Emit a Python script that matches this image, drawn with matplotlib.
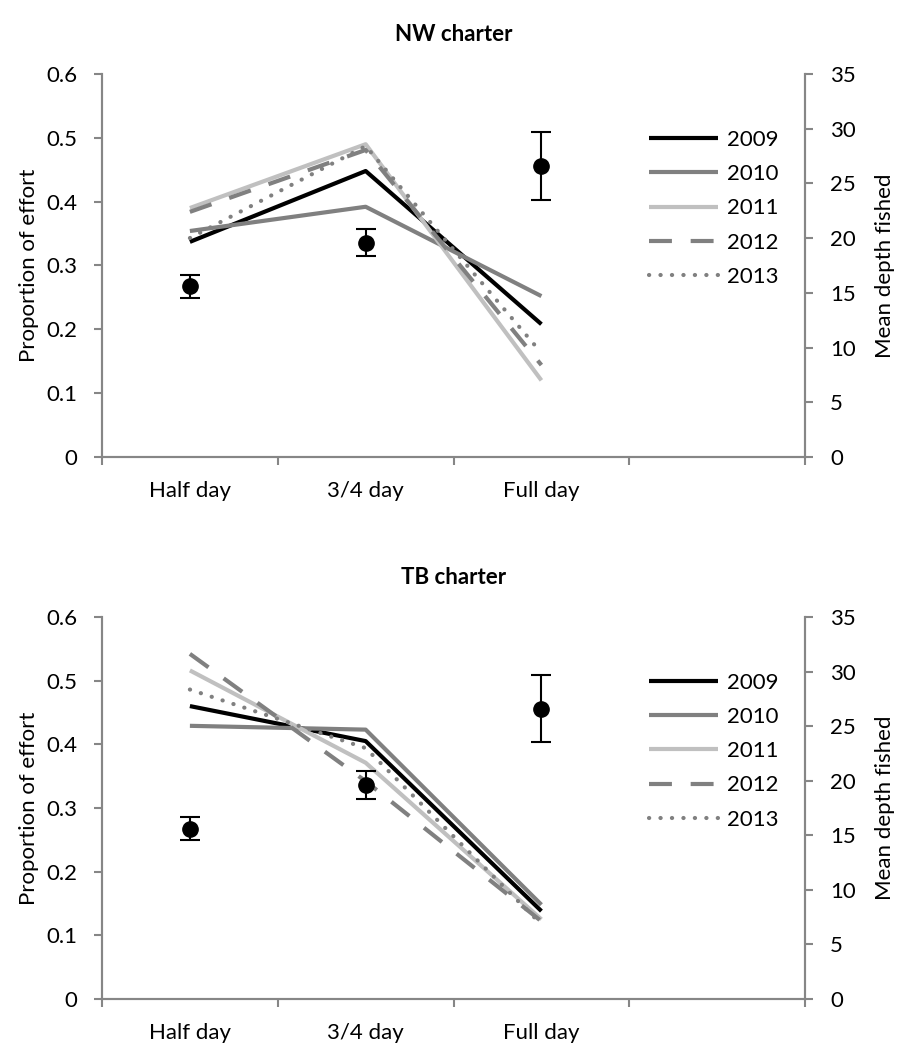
import matplotlib.pyplot as plt

plt.rcParams['font.family'] = ['Lato', 'DejaVu Sans']

categories = ['Half day', '3/4 day', 'Full day']
years = ['2009', '2010', '2011', '2012', '2013']

# proportion of effort, NW charter
nw_2009 = [0.337, 0.448, 0.208]
nw_2010 = [0.354, 0.392, 0.252]
nw_2011 = [0.390, 0.490, 0.120]
nw_2012 = [0.384, 0.481, 0.144]
nw_2013 = [0.343, 0.487, 0.163]

# proportion of effort, TB charter
tb_2009 = [0.460, 0.405, 0.138]
tb_2010 = [0.429, 0.423, 0.148]
tb_2011 = [0.516, 0.371, 0.125]
tb_2012 = [0.542, 0.342, 0.122]
tb_2013 = [0.486, 0.394, 0.117]

# mean depth fished (right axis)
depth_mean = [15.6, 19.6, 26.6]
depth_err = [1.05, 1.25, 3.1]

styles = [
    dict(color='black', ls='-'),
    dict(color='#808080', ls='-'),
    dict(color='#c0c0c0', ls='-'),
    dict(color='#808080', ls=(0, (5.5, 4.5))),
    dict(color='#808080', ls=(0, (0.05, 2.7)), dash_capstyle='round'),
]

spine_col = '#868686'
fs = 16


def panel(rect, title, series):
    ax = fig.add_axes(rect)
    x = list(range(len(categories)))
    for vals, yr, st in zip(series, years, styles):
        ax.plot(x, vals, lw=3, label=yr, solid_capstyle='butt', **st)
    ax.set_xlim(-0.5, 3.5)
    ax.set_ylim(0, 0.6)
    ax.set_yticks([0, 0.1, 0.2, 0.3, 0.4, 0.5, 0.6])
    ax.set_yticklabels(['0', '0.1', '0.2', '0.3', '0.4', '0.5', '0.6'])
    ax.set_xticks([-0.5, 0.5, 1.5, 2.5, 3.5])
    ax.set_xticklabels([])
    ax.set_xticks(x, minor=True)
    ax.set_xticklabels(categories, minor=True)
    ax.tick_params(axis='x', which='minor', length=0, pad=17, labelsize=fs)
    ax.tick_params(axis='x', which='major', length=6, color=spine_col, width=1.5)
    ax.tick_params(axis='y', length=6, color=spine_col, width=1.5, labelsize=fs, pad=12)
    ax.spines['top'].set_visible(False)
    for s in ['left', 'bottom', 'right']:
        ax.spines[s].set_color(spine_col)
        ax.spines[s].set_linewidth(1.5)
    ax.set_ylabel('Proportion of effort', fontsize=fs, labelpad=5)
    ax.set_title(title, fontsize=fs, fontweight='bold', pad=24)
    ax.legend(loc='upper left', bbox_to_anchor=(0.762, 0.883), frameon=False,
              fontsize=fs, handlelength=3.1, handletextpad=0.4,
              labelspacing=0.64, borderpad=0)

    ax2 = ax.twinx()
    ax2.errorbar(x, depth_mean, yerr=depth_err, fmt='o', color='black',
                 ms=11, capsize=7, elinewidth=1.5, capthick=1.5)
    ax2.set_ylim(0, 35)
    ax2.set_yticks(range(0, 36, 5))
    ax2.tick_params(axis='y', length=6, color=spine_col, width=1.5, labelsize=fs, pad=12)
    ax2.spines['top'].set_visible(False)
    for s in ['left', 'bottom', 'right']:
        ax2.spines[s].set_color(spine_col)
        ax2.spines[s].set_linewidth(1.5)
    ax2.set_ylabel('Mean depth fished', fontsize=fs, labelpad=14)
    return ax


fig = plt.figure(figsize=(8.98, 10.51), dpi=100)
panel([0.1136, 0.5652, 0.7829, 0.3644], 'NW charter',
      [nw_2009, nw_2010, nw_2011, nw_2012, nw_2013])
panel([0.1136, 0.0495, 0.7829, 0.3635], 'TB charter',
      [tb_2009, tb_2010, tb_2011, tb_2012, tb_2013])

fig.savefig('out.png', dpi=100)
